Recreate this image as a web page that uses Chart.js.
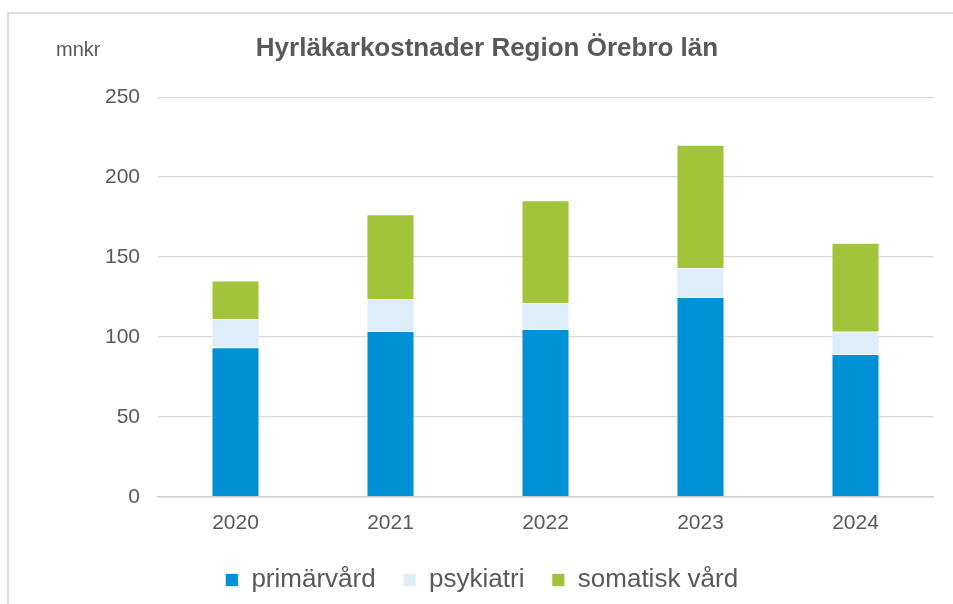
<!DOCTYPE html>
<html>
<head>
<meta charset="utf-8">
<script src="https://cdn.jsdelivr.net/npm/chart.js@4"></script>
<style>
  html, body { margin: 0; padding: 0; background: #fff; }
  #wrap { position: relative; width: 953px; height: 604px; overflow: hidden; }
  #frame {
    position: absolute; left: 7px; top: 12px; width: 1000px; height: 700px;
    border-left: 2px solid #dcdcdc; border-top: 2px solid #dcdcdc;
  }
  #chart { position: absolute; left: 0; top: 0; }
</style>
</head>
<body>
<div id="wrap">
  <div id="frame"></div>
  <canvas id="chart" width="953" height="604"></canvas>
</div>
<script>
// data (mnkr)
const years = ["2020", "2021", "2022", "2023", "2024"];
const primarvard = [93.5, 103.8, 105, 125, 89.4];
const psykiatri = [17.7, 20, 16.2, 18.1, 13.9];
const somatisk = [24.2, 53, 64.4, 77.1, 55.7];
const yTicks = [0, 50, 100, 150, 200, 250];

const textColor = "#595959";
const gridColor = "#d9d9d9";
const fontFamily = "'Liberation Sans', Arial, sans-serif";

// "mnkr" unit label in the top left corner
const unitLabel = {
  id: "unitLabel",
  afterDraw(chart) {
    const ctx = chart.ctx;
    ctx.save();
    ctx.fillStyle = textColor;
    ctx.font = `20px ${fontFamily}`;
    ctx.textAlign = "left";
    ctx.textBaseline = "alphabetic";
    ctx.fillText("mnkr", 56, 56);
    ctx.restore();
  },
};

const barBorder = "rgba(255,255,255,0.7)";

new Chart(document.getElementById("chart"), {
  type: "bar",
  data: {
    labels: years,
    datasets: [
      { label: "primärvård", data: primarvard, backgroundColor: "#0090d5", borderColor: barBorder, borderWidth: 1 },
      { label: "psykiatri", data: psykiatri, backgroundColor: "#ddedfa", borderColor: barBorder, borderWidth: 1 },
      { label: "somatisk vård", data: somatisk, backgroundColor: "#a1c43a", borderColor: barBorder, borderWidth: 1 },
    ],
  },
  options: {
    responsive: false,
    animation: false,
    devicePixelRatio: 1,
    layout: { padding: { left: 41, right: 20, top: 0, bottom: 1 } },
    datasets: { bar: { categoryPercentage: 0.31, barPercentage: 1 } },
    scales: {
      x: {
        stacked: true,
        grid: { display: false, drawTicks: false },
        border: { color: "#d0d0d0", width: 1.5 },
        ticks: { color: textColor, font: { family: fontFamily, size: 21 }, padding: 14 },
      },
      y: {
        stacked: true,
        min: 0,
        max: 250,
        afterBuildTicks(scale) {
          scale.ticks = yTicks.map((v) => ({ value: v }));
        },
        afterFit(scale) {
          scale.width = 117;
        },
        grid: { color: gridColor, lineWidth: 1.3, drawTicks: false },
        border: { display: false },
        ticks: { color: textColor, font: { family: fontFamily, size: 21 }, padding: 18 },
      },
    },
    plugins: {
      title: {
        display: true,
        text: "Hyrläkarkostnader Region Örebro län",
        color: textColor,
        font: { family: fontFamily, size: 26, weight: "bold" },
        padding: { top: 33, bottom: 33 },
      },
      legend: {
        position: "bottom",
        labels: {
          color: textColor,
          font: { family: fontFamily, size: 26 },
          boxWidth: 13,
          boxHeight: 13,
          padding: 17,
          generateLabels(chart) {
            // trailing thin spaces widen the gap between legend items
            return Chart.defaults.plugins.legend.labels.generateLabels(chart).map((item) => {
              item.text = item.text + "\u2009\u2009";
              return item;
            });
          },
        },
      },
      tooltip: { enabled: false },
    },
  },
  plugins: [unitLabel],
});
</script>
</body>
</html>
